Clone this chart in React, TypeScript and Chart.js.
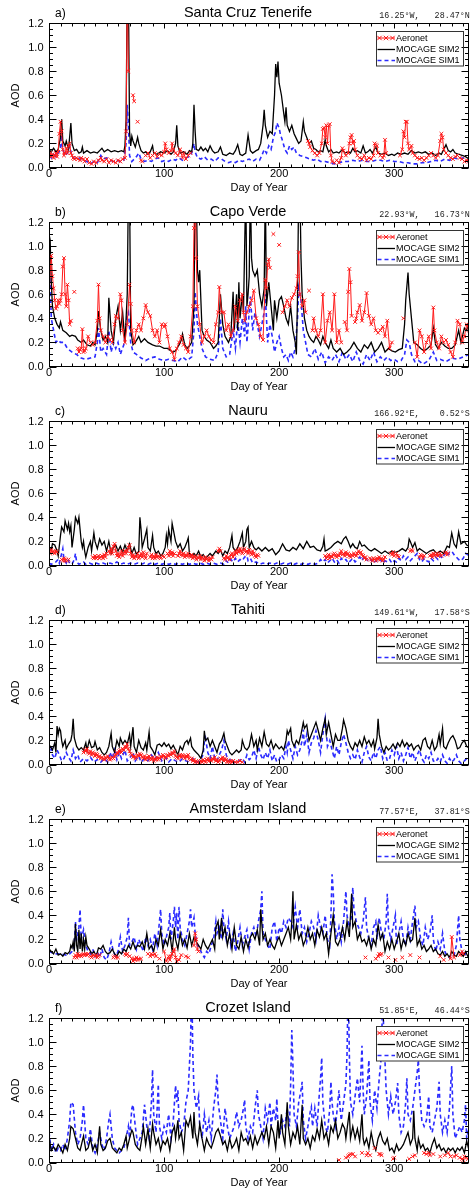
import React, { useEffect, useRef } from "react";
import { Chart, registerables } from "chart.js";

Chart.register(...registerables);

type Pt = [number, number];

// ---------- axes / labels ----------
const DAY_MIN = 0;
const DAY_MAX = 365;
const AOD_MIN = 0;
const AOD_MAX = 1.2;
const xTickValues = [0, 100, 200, 300];
const xTickLabels = ["0", "100", "200", "300"];
const yTickValues = [0, 0.2, 0.4, 0.6, 0.8, 1.0, 1.2];
const yTickLabels = ["0.0", "0.2", "0.4", "0.6", "0.8", "1.0", "1.2"];
const xMinorStep = 10;
const yMinorStep = 0.05;
const seriesNames = ["Aeronet", "MOCAGE SIM2", "MOCAGE SIM1"];
const xTitle = "Day of Year";
const yTitle = "AOD";

const panelTags = ["a)", "b)", "c)", "d)", "e)", "f)"];
const stationNames = ["Santa Cruz Tenerife", "Capo Verde", "Nauru", "Tahiti", "Amsterdam Island", "Crozet Island"];
const stationCoords = [
  " 16.25°W,   28.47°N",
  " 22.93°W,   16.73°N",
  "166.92°E,    0.52°S",
  "149.61°W,   17.58°S",
  " 77.57°E,   37.81°S",
  " 51.85°E,   46.44°S",
];

// ---------- a) Santa Cruz Tenerife ----------
const tenerifeAeronet: Pt[] = [
  [0,0.1],[1,0.12],[2,0.09],[3,0.11],[4,0.08],[5,0.1],[6,0.12],[7,0.09],[8,0.13],[9,0.28],[10,0.38],[11,0.3],[12,0.15],[13,0.1],[14,0.12],[15,0.16],[16,0.12],[17,0.18],[18,0.2],[19,0.12],[20,0.1],[21,0.08],[22,0.07],[24,0.08],[25,0.07],[27,0.06],[28,0.08],[30,0.07],[31,0.05],[33,0.07],[35,0.04],[37,0.03],[39,0.05],[41,0.04],[43,0.06],[45,0.08],[46,0.06],[48,0.05],[50,0.07],[52,0.04],[54,0.06],[56,0.05],[58,0.04],[60,0.06],[62,0.05],[64,0.07],[66,0.08],[67,0.3],[68,1.5],[69,0.8],
  [73,0.6],[74,0.55],[77,0.38],[80,0.06],[81,0.05],
  [84,0.1],[86,0.12],[88,0.08],[90,0.1],[92,0.12],[94,0.09],[96,0.11],[98,0.1],[100,0.13],[101,0.2],[102,0.15],[104,0.12],[106,0.14],[107,0.2],[108,0.15],[110,0.12],[112,0.1],[114,0.15],[116,0.08],[117,0.12],[119,0.07],[121,0.1],[123,0.12],
  [225,0.22],[226,0.2],[227,0.17],[229,0.14],[231,0.12],[233,0.1],[235,0.12],[237,0.2],[238,0.32],[239,0.33],[240,0.25],[241,0.35],[242,0.2],[243,0.35],[244,0.36],[245,0.1],[246,0.05],[248,0.04],[250,0.06],[252,0.04],[254,0.08],[255,0.16],[256,0.14],[258,0.1],[260,0.12],[261,0.2],[262,0.25],[263,0.27],[264,0.2],[265,0.22],[266,0.15],[268,0.1],[270,0.08],[272,0.07],[274,0.1],[276,0.06],[278,0.08],[280,0.07],[282,0.1],[283,0.2],[284,0.19],[285,0.18],[286,0.12],[288,0.1],[290,0.08],[291,0.1],[292,0.23],[293,0.12],
  [305,0.1],[307,0.15],[308,0.3],[309,0.25],[310,0.38],[311,0.38],[312,0.2],[313,0.15],[315,0.18],[316,0.12],[318,0.1],[320,0.08],[322,0.07],[324,0.08],[326,0.06],[328,0.08],[330,0.1],[332,0.12],[334,0.1],[336,0.08],[338,0.1],[340,0.22],[341,0.28],[342,0.25],[343,0.15],[345,0.12],[347,0.1],[349,0.08],[351,0.07],[353,0.09],[355,0.1],[357,0.08],[359,0.07],[361,0.05],[363,0.06],[365,0.05],
];
const tenerifeSim2: Pt[] = [
  [0,0.15],[2,0.13],[4,0.16],[6,0.13],[8,0.15],[10,0.25],[11,0.4],[12,0.22],[14,0.18],[15,0.22],[17,0.15],[19,0.37],[20,0.2],[22,0.14],[24,0.15],[26,0.12],[28,0.13],[29,0.17],[30,0.12],[33,0.14],[36,0.12],[39,0.13],[42,0.12],[44,0.14],[46,0.16],[48,0.13],[51,0.15],[54,0.13],[57,0.14],[60,0.13],[63,0.14],[65,0.13],[66,0.18],[67,0.4],[68,1.5],[69,1.5],[70,0.3],[71,0.18],[72,0.26],[73,0.22],[75,0.17],[77,0.25],[78,0.2],[80,0.14],[82,0.12],[84,0.13],[86,0.11],[88,0.13],[90,0.18],[91,0.12],[94,0.11],[97,0.13],[100,0.12],[103,0.14],[106,0.11],[108,0.13],[110,0.2],[111,0.35],[112,0.18],[114,0.12],[117,0.13],[120,0.11],[122,0.14],[124,0.13],[125,0.2],[126,0.52],[127,0.3],[128,0.15],[130,0.14],[132,0.17],[134,0.14],[136,0.16],[138,0.13],[140,0.18],[142,0.14],[144,0.12],[147,0.13],[149,0.17],[151,0.11],[154,0.1],[157,0.12],[160,0.11],[162,0.14],[164,0.19],[166,0.11],[168,0.1],[171,0.12],[173,0.27],[175,0.14],[177,0.12],[180,0.14],[182,0.15],[184,0.2],[186,0.35],[187,0.48],[188,0.35],[190,0.25],[192,0.3],[194,0.28],[196,0.6],[197,0.86],[198,0.75],[199,0.88],[200,0.7],[202,0.6],[204,0.45],[205,0.38],[206,0.5],[207,0.35],[209,0.3],[211,0.35],[213,0.28],[215,0.24],[217,0.2],[219,0.22],[221,0.38],[222,0.3],[224,0.25],[226,0.2],[228,0.22],[230,0.16],[232,0.15],[234,0.13],[236,0.14],[238,0.13],[240,0.23],[241,0.18],[243,0.13],[245,0.15],[247,0.12],[250,0.13],[252,0.12],[255,0.15],[257,0.12],[260,0.13],[262,0.12],[264,0.16],[266,0.13],[268,0.14],[271,0.12],[273,0.18],[275,0.12],[277,0.13],[279,0.15],[281,0.12],[284,0.17],[286,0.12],[289,0.11],[292,0.12],[295,0.1],[298,0.11],[300,0.1],[303,0.12],[306,0.11],[309,0.12],[312,0.11],[315,0.14],[318,0.12],[321,0.13],[324,0.12],[327,0.13],[330,0.11],[333,0.12],[336,0.1],[339,0.12],[341,0.11],[343,0.15],[345,0.19],[347,0.14],[349,0.13],[351,0.15],[353,0.12],[356,0.11],[359,0.1],[362,0.09],[365,0.07],
];
const tenerifeSim1: Pt[] = [
  [0,0.1],[2,0.08],[4,0.11],[6,0.09],[8,0.12],[10,0.15],[11,0.27],[12,0.15],[14,0.1],[16,0.12],[18,0.18],[19,0.13],[21,0.08],[24,0.07],[27,0.08],[30,0.06],[33,0.05],[36,0.03],[39,0.05],[42,0.04],[45,0.1],[47,0.07],[50,0.08],[53,0.06],[56,0.05],[59,0.06],[62,0.05],[65,0.06],[67,0.2],[68,0.52],[69,0.35],[70,0.1],[72,0.05],[74,0.07],[76,0.09],[78,0.12],[80,0.07],[83,0.05],[86,0.06],[89,0.05],[92,0.07],[95,0.08],[98,0.05],[101,0.06],[104,0.05],[107,0.07],[110,0.06],[113,0.08],[116,0.06],[119,0.08],[122,0.09],[124,0.12],[126,0.2],[127,0.13],[129,0.08],[132,0.07],[135,0.09],[138,0.06],[141,0.07],[144,0.05],[147,0.08],[150,0.07],[153,0.05],[156,0.04],[159,0.05],[162,0.04],[165,0.06],[168,0.05],[171,0.06],[174,0.07],[177,0.05],[180,0.07],[183,0.06],[185,0.1],[187,0.15],[189,0.12],[191,0.18],[193,0.15],[195,0.25],[197,0.3],[198,0.37],[199,0.35],[200,0.33],[201,0.28],[203,0.22],[205,0.15],[207,0.12],[209,0.18],[211,0.15],[213,0.17],[215,0.12],[218,0.1],[221,0.09],[224,0.08],[227,0.07],[230,0.06],[233,0.07],[236,0.05],[240,0.05],[244,0.04],[248,0.03],[252,0.04],[256,0.05],[260,0.05],[264,0.06],[268,0.05],[272,0.06],[276,0.05],[280,0.05],[284,0.06],[288,0.06],[292,0.05],[296,0.06],[300,0.05],[304,0.05],[308,0.04],[312,0.04],[316,0.03],[320,0.03],[324,0.04],[328,0.04],[332,0.05],[336,0.06],[340,0.05],[344,0.07],[348,0.06],[352,0.08],[356,0.07],[360,0.08],[363,0.06],[365,0.04],
];

// ---------- b) Capo Verde ----------
const capoAeronet: Pt[] = [
  [0,0.5],[1,0.8],[2,0.92],[3,0.75],[4,0.65],[5,0.55],[6,0.48],[7,0.5],[8,0.55],[9,0.52],[10,0.55],[11,0.6],[12,0.83],[13,0.9],[14,0.6],[15,0.5],[16,0.68],[17,0.55],[18,0.35],[19,0.38],
  [22,0.62],
  [25,0.15],[26,0.12],[27,0.14],[28,0.15],[29,0.31],[30,0.12],[31,0.13],[32,0.15],[34,0.25],[36,0.2],[38,0.18],[40,0.2],[42,0.38],[43,0.68],[44,0.4],[45,0.3],[47,0.25],[49,0.2],[51,0.25],[53,0.22],[55,0.2],[57,0.35],[58,0.42],[60,0.4],[62,0.6],[63,0.55],[64,0.3],[66,0.2],[68,0.35],[70,0.68],[71,0.52],[72,0.3],[74,0.2],[76,0.3],[78,0.35],[80,0.3],[82,0.4],[84,0.51],[86,0.45],[88,0.42],[90,0.3],[92,0.25],[94,0.3],[96,0.2],[98,0.35],[100,0.33],[101,0.35],[103,0.25],[105,0.15],[107,0.12],[109,0.06],[111,0.15],[113,0.2],[115,0.25],[117,0.18],[119,0.15],[121,0.12],[123,0.25],[125,0.5],[126,1.15],[127,1.5],[128,0.9],[129,0.5],[131,0.35],[133,0.2],[135,0.25],[137,0.3],[139,0.25],[141,0.22],[143,0.2],[145,0.35],[147,0.45],[148,0.66],[150,0.45],[152,0.45],[154,0.3],[156,0.35],[158,0.25],[160,0.3],[162,0.5],[164,0.38],[166,0.55],[168,0.6],[169,0.45],[170,0.38],[172,0.45],[174,0.5],[176,0.55],[178,0.63],[180,0.4],[182,0.35],[184,0.25],[186,0.22],[188,0.72],[189,0.65],[190,0.85],[191,0.89],[192,0.82],
  [195,1.1],
  [200,1.01],
  [203,0.45],[205,0.5],[207,0.55],[209,0.5],[211,0.57],[213,0.6],[215,0.65],[216,0.75],[217,0.95],[218,0.6],[220,0.5],[222,0.55],[223,0.45],
  [226,0.63],
  [229,0.3],[230,0.4],[232,0.3],[234,0.25],[236,0.3],[238,0.6],[240,0.2],[242,0.38],[244,0.45],[246,0.3],[248,0.6],[250,0.2],[252,0.3],[254,0.2],
  [257,0.37],[259,0.3],[260,0.62],[261,0.81],[262,0.7],[263,0.42],
  [266,0.37],[267,0.4],[268,0.45],[270,0.51],[272,0.38],[274,0.45],[276,0.61],[278,0.42],[280,0.35],[282,0.4],[284,0.3],[286,0.28],[288,0.3],[290,0.33],[292,0.25],[294,0.38],[296,0.15],[298,0.2],
  [308,0.4],
  [318,0.2],[320,0.08],[322,0.3],[324,0.25],[326,0.12],[328,0.2],[330,0.25],[332,0.15],[334,0.49],[335,0.3],[337,0.2],[339,0.15],[341,0.25],[343,0.2],[345,0.22],[347,0.18],[349,0.12],[351,0.08],[353,0.2],[355,0.38],[357,0.35],[359,0.2],[361,0.25],[363,0.35],[365,0.3],
];
const capoSim2: Pt[] = [
  [0,1.1],[1,1.05],[2,0.7],[3,0.5],[5,0.4],[7,0.35],[9,0.32],[10,0.37],[12,0.3],[15,0.28],[18,0.25],[20,0.26],[23,0.25],[25,0.22],[28,0.2],[30,0.22],[33,0.18],[36,0.17],[38,0.2],[40,0.18],[42,0.3],[43,0.46],[45,0.3],[47,0.22],[49,0.25],[51,0.2],[52,0.57],[54,0.3],[56,0.2],[58,0.4],[60,0.5],[62,0.3],[64,0.45],[66,0.2],[68,0.6],[69,1.5],[70,1.5],[71,0.3],[73,0.18],[75,0.2],[78,0.25],[80,0.2],[83,0.23],[86,0.2],[90,0.18],[93,0.17],[96,0.17],[100,0.15],[103,0.15],[106,0.13],[108,0.12],[110,0.13],[113,0.18],[115,0.22],[116,0.27],[118,0.18],[120,0.15],[122,0.17],[124,0.2],[126,0.5],[127,1.5],[128,1.5],[129,0.8],[130,0.7],[131,0.8],[133,0.3],[135,0.25],[137,0.22],[140,0.2],[143,0.15],[145,0.17],[147,0.2],[149,0.6],[151,0.35],[153,0.25],[156,0.2],[158,0.25],[160,0.62],[161,0.3],[163,0.6],[164,0.3],[165,0.7],[166,0.4],[168,0.6],[169,0.45],[171,1.5],[172,0.5],[173,0.6],[174,0.75],[175,1.5],[176,0.9],[177,0.8],[179,0.75],[181,0.8],[183,0.6],[185,0.5],[187,0.65],[188,1.5],[189,0.5],[191,0.7],[193,0.5],[195,0.3],[196,0.55],[198,0.4],[200,0.55],[202,0.58],[204,0.5],[206,0.4],[208,0.35],[210,0.5],[212,0.3],[214,0.2],[215,0.1],[216,0.6],[217,1.5],[218,1.5],[219,0.9],[220,0.6],[222,0.4],[224,0.3],[226,0.25],[228,0.22],[230,0.2],[232,0.25],[234,0.22],[236,0.18],[238,0.25],[240,0.2],[243,0.15],[245,0.22],[247,0.15],[250,0.12],[253,0.15],[256,0.1],[259,0.12],[262,0.15],[265,0.2],[268,0.15],[271,0.12],[274,0.18],[277,0.15],[280,0.2],[283,0.12],[286,0.15],[289,0.2],[292,0.12],[295,0.15],[298,0.13],[301,0.12],[304,0.14],[307,0.15],[309,0.35],[310,0.55],[312,0.78],[313,0.6],[315,0.4],[317,0.2],[320,0.18],[323,0.15],[326,0.13],[329,0.15],[332,0.18],[334,0.32],[336,0.18],[338,0.15],[341,0.2],[344,0.17],[347,0.15],[350,0.15],[353,0.18],[356,0.3],[358,0.2],[361,0.32],[363,0.3],[365,0.38],
];
const capoSim1: Pt[] = [
  [0,0.85],[1,0.7],[2,0.4],[4,0.3],[6,0.2],[8,0.22],[10,0.2],[13,0.2],[16,0.15],[20,0.12],[24,0.1],[28,0.07],[32,0.06],[36,0.07],[40,0.08],[42,0.2],[43,0.32],[45,0.12],[47,0.15],[50,0.1],[52,0.3],[54,0.12],[56,0.2],[58,0.15],[60,0.2],[62,0.1],[65,0.18],[68,0.42],[69,0.45],[71,0.2],[73,0.12],[76,0.1],[80,0.07],[84,0.05],[88,0.07],[92,0.08],[96,0.06],[100,0.05],[104,0.06],[108,0.05],[112,0.04],[116,0.08],[120,0.05],[124,0.08],[126,0.3],[127,0.62],[129,0.35],[131,0.25],[133,0.15],[136,0.08],[140,0.06],[144,0.05],[147,0.12],[149,0.4],[151,0.15],[154,0.08],[157,0.1],[160,0.3],[162,0.15],[164,0.38],[166,0.2],[168,0.4],[170,0.25],[171,0.5],[172,0.2],[174,0.45],[175,0.58],[177,0.3],[179,0.45],[181,0.35],[183,0.25],[185,0.35],[187,0.45],[188,0.6],[190,0.2],[192,0.35],[194,0.25],[196,0.12],[198,0.2],[200,0.25],[202,0.15],[204,0.08],[206,0.1],[208,0.05],[210,0.12],[212,0.08],[214,0.15],[216,0.4],[217,0.65],[219,0.55],[221,0.3],[223,0.2],[225,0.1],[228,0.08],[231,0.15],[234,0.06],[237,0.12],[240,0.03],[243,0.08],[246,0.05],[249,0.1],[252,0.04],[255,0.12],[258,0.06],[261,0.1],[264,0.04],[267,0.12],[270,0.05],[273,0.02],[276,0.1],[279,0.05],[282,0.12],[285,0.04],[288,0.08],[291,0.05],[294,0.08],[297,0.05],[300,0.06],[303,0.04],[306,0.05],[309,0.1],[311,0.22],[313,0.2],[315,0.1],[318,0.04],[321,0.05],[325,0.02],[330,0.05],[334,0.12],[337,0.05],[340,0.06],[345,0.04],[350,0.07],[355,0.06],[360,0.08],[365,0.1],
];

// ---------- c) Nauru ----------
const nauruAeronet: Pt[] = [
  [0,0.12],[1,0.1],[2,0.13],[3,0.11],[4,0.12],[5,0.1],[6,0.12],[7,0.11],
  [11,0.05],[12,0.04],[13,0.06],[14,0.04],[15,0.05],[16,0.04],[17,0.05],
  [38,0.07],[39,0.06],[40,0.08],[41,0.06],[42,0.07],[43,0.08],[44,0.06],[45,0.07],[46,0.08],[47,0.06],[48,0.09],[49,0.07],[50,0.1],[52,0.12],[53,0.1],[54,0.14],[55,0.1],[56,0.16],[57,0.18],[58,0.12],[59,0.08],[60,0.1],[61,0.07],[62,0.09],[63,0.12],[64,0.08],[65,0.1],[66,0.12],[67,0.1],[68,0.12],[69,0.15],[70,0.17],[71,0.1],[72,0.07],[73,0.09],[74,0.06],[75,0.08],[76,0.07],[77,0.1],[78,0.06],[79,0.08],[80,0.1],[81,0.07],[82,0.11],[83,0.08],[84,0.06],[85,0.1],
  [88,0.07],[89,0.09],[90,0.06],[91,0.08],[92,0.06],[93,0.09],[94,0.07],[95,0.08],[96,0.07],[97,0.06],[99,0.08],[100,0.07],
  [103,0.1],[104,0.08],[105,0.12],[106,0.09],[107,0.11],[108,0.08],[109,0.1],
  [112,0.08],[113,0.1],[114,0.12],[115,0.09],[116,0.08],[117,0.1],[118,0.07],[119,0.09],[120,0.08],[121,0.1],[122,0.08],[123,0.07],[124,0.09],[125,0.06],[126,0.08],[127,0.07],[128,0.05],[129,0.07],[130,0.06],[131,0.08],[132,0.05],[133,0.07],[134,0.06],[135,0.04],[136,0.07],[137,0.05],[138,0.06],[139,0.04],[140,0.06],[141,0.05],[142,0.07],
  [147,0.12],[148,0.14],[149,0.12],
  [152,0.06],[153,0.05],[154,0.08],[155,0.06],[156,0.07],[157,0.05],[158,0.09],[159,0.1],[160,0.07],[161,0.09],[162,0.12],[163,0.1],[164,0.13],[165,0.11],[166,0.14],[167,0.12],[168,0.1],[169,0.13],[170,0.14],[171,0.11],[172,0.12],[173,0.1],[174,0.13],[175,0.11],[176,0.09],[177,0.12],[178,0.1],[179,0.08],[180,0.07],[181,0.09],[182,0.08],
  [240,0.08],[241,0.06],[242,0.07],[243,0.09],[244,0.06],[245,0.08],[246,0.07],[247,0.09],[248,0.1],[249,0.08],[250,0.07],[251,0.09],[252,0.08],[253,0.1],[254,0.12],[255,0.09],[256,0.1],[257,0.08],[258,0.11],[259,0.09],[260,0.1],[261,0.08],[262,0.07],[263,0.09],[264,0.08],[265,0.1],[266,0.09],[267,0.08],[268,0.1],[269,0.12],[270,0.1],[271,0.11],[272,0.09],[273,0.08],[274,0.06],[275,0.07],[276,0.05],
  [279,0.06],[280,0.05],[281,0.04],[282,0.06],[283,0.05],[284,0.04],[285,0.06],[286,0.05],[287,0.07],[288,0.05],[289,0.06],[290,0.04],[291,0.05],[292,0.07],
  [297,0.1],[298,0.09],[299,0.11],[300,0.08],[301,0.09],[302,0.1],[303,0.08],[304,0.07],
  [314,0.12],[315,0.13],[316,0.12],
  [322,0.07],[323,0.09],[324,0.08],[325,0.06],[326,0.08],
  [331,0.08],[332,0.09],[333,0.07],[334,0.1],[335,0.08],[336,0.09],[337,0.1],[338,0.08],[339,0.09],[340,0.1],[341,0.08],
  [344,0.1],[345,0.11],[346,0.09],[347,0.1],
];
const nauruSim2: Pt[] = [
  [0,0.15],[2,0.13],[3,0.18],[5,0.17],[7,0.12],[8,0.08],[10,0.25],[11,0.32],[13,0.28],[14,0.37],[16,0.3],[17,0.35],[18,0.28],[19,0.33],[20,0.15],[22,0.3],[23,0.4],[25,0.35],[26,0.4],[27,0.3],[28,0.2],[29,0.15],[30,0.2],[31,0.12],[32,0.07],[34,0.15],[36,0.2],[37,0.12],[39,0.27],[40,0.2],[42,0.14],[44,0.22],[46,0.17],[48,0.2],[50,0.12],[52,0.2],[54,0.1],[56,0.15],[58,0.17],[60,0.12],[62,0.16],[64,0.11],[66,0.17],[68,0.12],[70,0.18],[72,0.1],[74,0.15],[76,0.09],[78,0.12],[79,0.4],[80,0.3],[81,0.15],[83,0.22],[85,0.3],[86,0.15],[88,0.12],[90,0.25],[91,0.15],[93,0.1],[95,0.12],[97,0.08],[99,0.1],[101,0.15],[102,0.25],[103,0.18],[104,0.3],[106,0.2],[107,0.35],[108,0.3],[110,0.2],[112,0.15],[114,0.18],[116,0.12],[118,0.15],[120,0.2],[121,0.23],[122,0.1],[124,0.08],[126,0.1],[128,0.08],[130,0.12],[132,0.07],[134,0.09],[136,0.06],[138,0.08],[140,0.1],[142,0.08],[145,0.12],[147,0.1],[149,0.13],[151,0.08],[153,0.12],[155,0.1],[157,0.15],[159,0.25],[160,0.15],[162,0.12],[164,0.15],[166,0.2],[168,0.27],[169,0.15],[171,0.2],[172,0.3],[173,0.32],[174,0.15],[176,0.2],[178,0.15],[180,0.13],[182,0.15],[185,0.12],[188,0.15],[191,0.12],[194,0.14],[197,0.09],[200,0.12],[203,0.18],[206,0.13],[209,0.12],[212,0.15],[215,0.13],[218,0.18],[221,0.14],[224,0.2],[227,0.15],[230,0.16],[233,0.13],[236,0.12],[238,0.16],[239,0.22],[240,0.12],[242,0.13],[245,0.15],[248,0.18],[251,0.2],[254,0.18],[256,0.22],[258,0.24],[260,0.2],[262,0.15],[264,0.18],[266,0.15],[268,0.14],[270,0.2],[272,0.16],[274,0.17],[276,0.15],[278,0.13],[280,0.12],[283,0.14],[286,0.12],[289,0.1],[292,0.12],[295,0.1],[298,0.12],[301,0.11],[304,0.12],[307,0.14],[310,0.12],[312,0.15],[313,0.22],[314,0.2],[316,0.15],[318,0.19],[320,0.12],[322,0.14],[325,0.12],[328,0.1],[331,0.12],[334,0.13],[337,0.1],[340,0.12],[343,0.1],[346,0.16],[348,0.15],[350,0.27],[352,0.18],[354,0.15],[356,0.28],[358,0.18],[361,0.2],[363,0.17],[365,0.16],
];
const nauruSim1: Pt[] = [
  [0,0.02],[2,0.01],[4,0.02],[6,0.03],[8,0.05],[9,0.02],[11,0.1],[12,0.14],[13,0.05],[15,0.02],[16,0.05],[18,0.02],[20,0.01],[22,0.05],[23,0.1],[24,0.03],[26,0.01],[28,0.02],[30,0.03],[32,0.01],[35,0.02],[38,0.01],[41,0.02],[44,0.01],[47,0.02],[50,0.01],[53,0.02],[56,0.01],[59,0.03],[62,0.01],[65,0.02],[68,0.01],[71,0.02],[74,0.01],[77,0.02],[80,0.01],[83,0.02],[86,0.01],[89,0.02],[92,0.01],[95,0.02],[98,0.01],[101,0.02],[104,0.01],[107,0.02],[110,0.01],[113,0.02],[116,0.01],[119,0.02],[122,0.01],[125,0.02],[128,0.01],[131,0.02],[134,0.01],[137,0.02],[140,0.01],[143,0.02],[146,0.01],[149,0.02],[152,0.01],[154,0.04],[156,0.02],[158,0.05],[160,0.03],[162,0.06],[164,0.03],[166,0.05],[168,0.04],[170,0.07],[172,0.08],[173,0.04],[175,0.06],[177,0.02],[180,0.03],[183,0.01],[186,0.02],[189,0.01],[192,0.02],[195,0.01],[198,0.02],[201,0.01],[204,0.02],[207,0.01],[210,0.02],[213,0.01],[216,0.02],[219,0.01],[222,0.02],[225,0.01],[228,0.02],[231,0.01],[234,0.02],[236,0.05],[238,0.03],[240,0.05],[242,0.02],[244,0.04],[246,0.06],[248,0.03],[250,0.05],[252,0.02],[254,0.06],[256,0.04],[258,0.05],[260,0.02],[262,0.04],[264,0.06],[266,0.03],[268,0.05],[270,0.07],[272,0.04],[274,0.08],[276,0.05],[278,0.03],[280,0.05],[282,0.02],[284,0.04],[286,0.03],[288,0.05],[290,0.02],[292,0.04],[294,0.03],[296,0.05],[298,0.02],[300,0.04],[302,0.03],[304,0.06],[306,0.04],[308,0.08],[310,0.05],[312,0.07],[314,0.04],[316,0.06],[318,0.08],[320,0.1],[322,0.05],[324,0.03],[326,0.06],[328,0.04],[330,0.03],[332,0.06],[334,0.04],[336,0.07],[338,0.05],[340,0.08],[342,0.06],[344,0.1],[346,0.08],[348,0.11],[350,0.12],[352,0.09],[354,0.07],[356,0.05],[358,0.04],[360,0.06],[362,0.1],[364,0.09],[365,0.08],
];

// ---------- d) Tahiti ----------
const tahitiAeronet: Pt[] = [
  [30,0.1],[31,0.12],[32,0.11],[33,0.13],[34,0.1],[35,0.09],[36,0.11],[37,0.08],[38,0.1],[39,0.09],[40,0.07],[41,0.09],[42,0.08],[43,0.06],[44,0.07],[45,0.05],[46,0.06],[47,0.05],[48,0.04],[49,0.06],[50,0.05],[51,0.07],[52,0.05],[53,0.04],[54,0.05],[55,0.06],[56,0.05],[57,0.07],[58,0.08],[59,0.1],[60,0.09],[61,0.11],[62,0.12],[63,0.1],[64,0.13],[65,0.12],[66,0.15],[67,0.14],[68,0.17],[69,0.13],[70,0.11],[71,0.09],[72,0.08],[73,0.06],[74,0.07],[75,0.05],[76,0.06],[77,0.08],[78,0.07],[79,0.09],[80,0.08],[81,0.06],[82,0.05],[83,0.07],[84,0.04],[85,0.06],[86,0.05],[87,0.07],[88,0.05],[89,0.04],[90,0.06],[91,0.03],[92,0.05],[93,0.04],[94,0.06],[95,0.04],[96,0.05],[97,0.07],[98,0.06],[99,0.08],[100,0.07],[101,0.05],[102,0.06],[103,0.08],[104,0.07],[105,0.09],[106,0.08],[107,0.1],[108,0.09],[109,0.11],[110,0.07],[111,0.06],[112,0.05],[113,0.07],[114,0.08],[115,0.06],[116,0.08],[117,0.07],[118,0.05],[119,0.07],[120,0.06],[121,0.08],[122,0.05],[123,0.04],[124,0.05],[125,0.03],[126,0.04],[127,0.02],[128,0.03],[129,0.02],[130,0.01],[131,0.02],[132,0.03],[133,0.02],[134,0.04],[135,0.03],[136,0.02],[137,0.04],[138,0.05],[139,0.03],[140,0.04],[141,0.03],[142,0.05],[143,0.04],[144,0.06],[145,0.03],[146,0.04],[147,0.02],[148,0.03],[149,0.05],[150,0.04],[151,0.06],[152,0.03],[153,0.05],[154,0.04],[155,0.02],[156,0.03],[157,0.02],[158,0.03],[159,0.02],[160,0.03],[162,0.02],[164,0.02],[166,0.03],[168,0.02],
];
const tahitiSim2: Pt[] = [
  [0,0.13],[1,0.15],[3,0.12],[5,0.18],[6,0.1],[7,0.32],[8,0.25],[9,0.3],[10,0.28],[11,0.2],[12,0.15],[14,0.2],[15,0.13],[17,0.17],[19,0.2],[20,0.25],[21,0.38],[22,0.22],[24,0.15],[26,0.12],[28,0.14],[30,0.12],[32,0.18],[33,0.12],[35,0.2],[37,0.14],[39,0.15],[40,0.19],[42,0.12],[44,0.14],[46,0.1],[48,0.08],[50,0.1],[52,0.15],[54,0.26],[55,0.15],[57,0.1],[59,0.2],[61,0.15],[62,0.22],[64,0.17],[66,0.2],[68,0.17],[70,0.25],[71,0.15],[73,0.31],[74,0.15],[76,0.1],[78,0.2],[80,0.14],[82,0.12],[84,0.18],[85,0.12],[87,0.27],[88,0.15],[90,0.12],[92,0.08],[94,0.16],[96,0.17],[98,0.15],[100,0.18],[102,0.15],[104,0.17],[106,0.13],[108,0.16],[110,0.12],[112,0.08],[114,0.15],[116,0.12],[118,0.18],[120,0.2],[121,0.17],[123,0.22],[124,0.15],[126,0.12],[128,0.1],[130,0.08],[132,0.05],[134,0.12],[135,0.28],[136,0.2],[138,0.22],[140,0.15],[142,0.2],[144,0.15],[146,0.1],[148,0.17],[150,0.2],[152,0.26],[153,0.2],[155,0.15],[157,0.1],[159,0.08],[161,0.1],[163,0.12],[165,0.1],[167,0.12],[168,0.2],[170,0.14],[172,0.12],[174,0.15],[176,0.25],[178,0.15],[180,0.2],[181,0.12],[183,0.22],[185,0.15],[187,0.27],[189,0.17],[191,0.15],[193,0.2],[195,0.13],[197,0.17],[200,0.13],[202,0.15],[204,0.12],[206,0.2],[207,0.28],[208,0.25],[210,0.3],[211,0.2],[213,0.15],[215,0.2],[217,0.17],[219,0.25],[220,0.3],[221,0.35],[222,0.3],[224,0.33],[226,0.2],[228,0.25],[230,0.3],[232,0.35],[234,0.28],[236,0.2],[238,0.3],[240,0.38],[241,0.25],[243,0.35],[245,0.25],[247,0.15],[249,0.25],[251,0.2],[253,0.2],[255,0.3],[256,0.37],[258,0.3],[260,0.2],[262,0.15],[264,0.12],[266,0.18],[268,0.15],[270,0.2],[272,0.15],[274,0.23],[276,0.17],[278,0.2],[280,0.15],[282,0.2],[283,0.13],[285,0.22],[286,0.38],[287,0.25],[289,0.15],[291,0.1],[293,0.15],[295,0.12],[297,0.14],[299,0.17],[301,0.13],[303,0.18],[305,0.15],[307,0.2],[309,0.15],[311,0.18],[313,0.15],[315,0.17],[317,0.12],[319,0.15],[321,0.16],[323,0.12],[325,0.2],[327,0.22],[329,0.15],[331,0.13],[333,0.2],[335,0.12],[337,0.15],[339,0.25],[340,0.17],[342,0.3],[343,0.15],[345,0.13],[347,0.18],[349,0.22],[351,0.24],[353,0.2],[355,0.13],[357,0.14],[359,0.18],[361,0.2],[363,0.15],[365,0.14],
];
const tahitiSim1: Pt[] = [
  [0,0.1],[2,0.15],[3,0.08],[5,0.05],[7,0.12],[9,0.08],[11,0.03],[13,0.05],[15,0.1],[17,0.06],[19,0.03],[21,0.12],[23,0.05],[25,0.08],[27,0.02],[30,0.05],[33,0.03],[36,0.06],[39,0.02],[42,0.04],[45,0.02],[48,0.05],[51,0.02],[53,0.1],[55,0.05],[57,0.12],[59,0.04],[61,0.1],[63,0.05],[66,0.12],[68,0.03],[70,0.05],[73,0.1],[75,0.03],[78,0.07],[80,0.02],[83,0.05],[86,0.03],[89,0.08],[92,0.04],[95,0.1],[98,0.03],[101,0.06],[104,0.02],[107,0.05],[110,0.03],[113,0.02],[116,0.05],[119,0.03],[122,0.02],[125,0.05],[128,0.02],[131,0.03],[134,0.08],[135,0.19],[136,0.22],[138,0.1],[140,0.05],[142,0.15],[144,0.05],[146,0.03],[148,0.08],[150,0.12],[152,0.2],[154,0.08],[156,0.03],[158,0.05],[160,0.03],[162,0.01],[165,0.03],[168,0.05],[170,0.02],[172,0.08],[174,0.04],[176,0.06],[178,0.12],[180,0.05],[182,0.15],[184,0.08],[186,0.04],[188,0.1],[190,0.05],[192,0.12],[194,0.03],[196,0.08],[198,0.02],[200,0.04],[202,0.08],[204,0.05],[206,0.15],[207,0.1],[208,0.2],[210,0.12],[212,0.05],[214,0.15],[216,0.08],[218,0.12],[220,0.2],[221,0.29],[222,0.15],[224,0.25],[226,0.1],[228,0.18],[230,0.22],[232,0.28],[234,0.2],[236,0.1],[238,0.25],[240,0.38],[242,0.15],[244,0.2],[246,0.12],[248,0.05],[250,0.15],[252,0.08],[254,0.18],[256,0.25],[258,0.18],[260,0.1],[262,0.05],[264,0.08],[266,0.04],[268,0.12],[270,0.06],[272,0.02],[274,0.1],[276,0.15],[278,0.06],[280,0.03],[282,0.1],[284,0.05],[286,0.12],[288,0.15],[290,0.05],[292,0.1],[294,0.03],[296,0.05],[298,0.12],[300,0.08],[302,0.15],[304,0.05],[306,0.1],[308,0.03],[310,0.08],[312,0.14],[314,0.05],[316,0.1],[318,0.03],[320,0.08],[322,0.12],[324,0.05],[326,0.02],[328,0.08],[330,0.05],[332,0.1],[334,0.03],[336,0.02],[338,0.05],[340,0.02],[342,0.08],[344,0.03],[346,0.01],[348,0.05],[350,0.02],[352,0.04],[354,0.08],[356,0.03],[358,0.01],[360,0.02],[363,0.05],[365,0.06],
];

// ---------- e) Amsterdam Island ----------
const amsterdamAeronet: Pt[] = [
  [22,0.05],[23,0.07],[24,0.05],[25,0.08],[26,0.06],[27,0.07],[28,0.06],[29,0.07],[30,0.08],[31,0.07],[32,0.08],[33,0.07],[34,0.08],[36,0.06],[37,0.05],[38,0.07],[40,0.06],[41,0.07],[42,0.05],[43,0.06],[44,0.07],
  [56,0.05],[57,0.06],[58,0.05],[60,0.05],
  [66,0.08],[67,0.07],[68,0.08],[70,0.06],[72,0.04],[73,0.02],[74,0.04],[75,0.03],[76,0.05],[77,0.03],[78,0.04],[80,0.04],
  [86,0.08],[88,0.06],[89,0.08],[90,0.07],[92,0.08],[93,0.06],
  [96,0.04],
  [100,0.1],[102,0.02],[104,0.06],[105,0.03],[106,0.06],[107,0.08],[108,0.1],[109,0.12],[110,0.05],[111,0.02],[113,0.03],[115,0.07],
  [119,0.06],[121,0.05],
  [126,0.15],[127,0.25],[128,0.2],[129,0.12],[130,0.1],
  [275,0.05],
  [284,0.04],[286,0.06],[287,0.08],[288,0.07],[289,0.08],
  [295,0.05],[301,0.03],[307,0.05],[314,0.07],[322,0.05],[340,0.06],[343,0.03],
  [349,0.04],[350,0.22],[352,0.05],
  [357,0.07],[359,0.1],[360,0.08],
];
const amsterdamSim2: Pt[] = [
  [0,0.12],[2,0.1],[4,0.08],[6,0.12],[8,0.07],[10,0.08],[12,0.06],[14,0.09],[16,0.08],[18,0.1],[19,0.15],[20,0.13],[21,0.18],[22,0.1],[23,0.33],[24,0.15],[25,0.1],[26,0.28],[27,0.12],[28,0.25],[29,0.1],[30,0.2],[31,0.12],[32,0.22],[33,0.15],[35,0.12],[37,0.08],[39,0.1],[41,0.06],[43,0.13],[45,0.12],[47,0.15],[49,0.1],[51,0.08],[53,0.09],[55,0.12],[57,0.08],[59,0.06],[61,0.1],[63,0.08],[65,0.12],[67,0.1],[69,0.15],[71,0.12],[73,0.18],[75,0.12],[77,0.15],[79,0.14],[81,0.18],[83,0.12],[85,0.25],[87,0.12],[89,0.15],[91,0.1],[93,0.2],[95,0.15],[97,0.28],[99,0.12],[101,0.2],[103,0.15],[105,0.25],[107,0.1],[109,0.3],[110,0.2],[112,0.12],[114,0.25],[116,0.15],[118,0.2],[120,0.13],[122,0.25],[124,0.15],[126,0.22],[128,0.18],[130,0.15],[132,0.12],[134,0.2],[136,0.15],[138,0.12],[140,0.16],[142,0.2],[144,0.12],[145,0.3],[147,0.35],[148,0.2],[150,0.38],[151,0.22],[153,0.3],[155,0.15],[157,0.25],[159,0.12],[161,0.3],[163,0.15],[165,0.12],[167,0.22],[169,0.1],[171,0.2],[173,0.13],[175,0.22],[177,0.25],[179,0.2],[181,0.28],[183,0.15],[184,0.45],[186,0.2],[188,0.25],[190,0.15],[192,0.2],[194,0.15],[196,0.12],[198,0.18],[200,0.22],[202,0.15],[204,0.2],[206,0.25],[208,0.3],[210,0.2],[211,0.35],[212,0.6],[213,0.2],[215,0.32],[217,0.2],[219,0.25],[221,0.15],[223,0.2],[225,0.3],[227,0.2],[229,0.25],[231,0.15],[233,0.28],[235,0.22],[237,0.3],[239,0.2],[241,0.25],[243,0.08],[245,0.25],[247,0.4],[249,0.18],[251,0.15],[253,0.2],[255,0.3],[257,0.2],[259,0.35],[261,0.22],[263,0.58],[264,0.3],[266,0.35],[268,0.2],[270,0.25],[272,0.18],[274,0.2],[276,0.15],[278,0.22],[280,0.12],[282,0.2],[284,0.15],[286,0.32],[288,0.2],[290,0.25],[292,0.1],[294,0.18],[296,0.12],[298,0.2],[300,0.12],[302,0.18],[304,0.25],[306,0.12],[308,0.2],[310,0.15],[312,0.25],[314,0.18],[316,0.2],[318,0.38],[320,0.15],[322,0.2],[324,0.12],[326,0.15],[328,0.1],[330,0.12],[332,0.15],[334,0.1],[336,0.12],[338,0.08],[340,0.07],[342,0.1],[344,0.06],[346,0.08],[348,0.05],[350,0.1],[352,0.07],[354,0.06],[356,0.1],[358,0.08],[360,0.06],[362,0.1],[364,0.06],[365,0.07],
];
const amsterdamSim1: Pt[] = [
  [0,0.1],[5,0.08],[10,0.08],[15,0.07],[18,0.08],[20,0.1],[22,0.15],[23,0.35],[24,0.2],[26,0.3],[27,0.45],[28,0.2],[30,0.28],[32,0.15],[34,0.1],[36,0.08],[38,0.12],[40,0.06],[42,0.1],[44,0.05],[46,0.12],[48,0.05],[50,0.03],[52,0.08],[54,0.18],[56,0.1],[58,0.06],[60,0.1],[62,0.22],[64,0.1],[66,0.15],[68,0.22],[69,0.38],[70,0.15],[72,0.18],[74,0.22],[76,0.12],[78,0.2],[80,0.15],[82,0.1],[84,0.22],[86,0.15],[88,0.2],[90,0.12],[92,0.25],[94,0.15],[96,0.35],[97,0.45],[98,0.25],[100,0.15],[102,0.22],[104,0.3],[105,0.42],[106,0.2],[108,0.35],[109,0.47],[110,0.3],[111,0.42],[112,0.2],[113,0.47],[114,0.3],[116,0.2],[118,0.15],[120,0.25],[122,0.35],[123,0.45],[124,0.3],[126,0.38],[127,0.25],[129,0.15],[131,0.12],[133,0.08],[135,0.05],[137,0.1],[139,0.08],[141,0.15],[143,0.2],[145,0.35],[146,0.25],[148,0.3],[150,0.2],[151,0.45],[152,0.3],[154,0.2],[156,0.35],[158,0.15],[160,0.25],[162,0.1],[164,0.18],[166,0.3],[168,0.15],[170,0.22],[172,0.28],[174,0.12],[176,0.25],[178,0.3],[180,0.22],[182,0.35],[184,0.45],[185,0.6],[186,0.25],[188,0.2],[190,0.15],[192,0.12],[194,0.3],[196,0.35],[198,0.18],[200,0.3],[202,0.25],[204,0.35],[206,0.3],[208,0.38],[210,0.35],[212,0.3],[214,0.47],[216,0.3],[218,0.45],[220,0.25],[222,0.3],[224,0.18],[226,0.25],[228,0.35],[230,0.3],[232,0.2],[234,0.4],[236,0.3],[238,0.25],[240,0.4],[242,0.2],[244,0.15],[245,0.4],[246,0.74],[247,0.6],[248,0.35],[250,0.2],[252,0.3],[254,0.18],[256,0.35],[258,0.6],[259,0.4],[261,0.3],[263,0.4],[264,0.63],[265,0.45],[267,0.35],[269,0.3],[271,0.25],[273,0.35],[275,0.55],[276,0.3],[278,0.2],[280,0.15],[282,0.3],[284,0.35],[285,0.2],[287,0.38],[289,0.25],[291,0.2],[293,0.35],[294,0.58],[295,0.3],[297,0.2],[299,0.3],[301,0.4],[302,0.15],[304,0.25],[306,0.35],[308,0.2],[310,0.15],[312,0.3],[314,0.2],[316,0.35],[318,0.48],[319,0.3],[321,0.35],[323,0.2],[325,0.15],[327,0.3],[329,0.2],[331,0.25],[333,0.4],[334,0.2],[336,0.1],[338,0.18],[340,0.12],[342,0.25],[344,0.1],[346,0.06],[348,0.05],[350,0.08],[352,0.07],[354,0.15],[356,0.4],[357,0.2],[359,0.1],[361,0.06],[363,0.1],[365,0.08],
];

// ---------- f) Crozet Island ----------
const crozetAeronet: Pt[] = [
  [252,0.02],[258,0.04],[260,0.05],[261,0.06],[262,0.07],[264,0.07],[266,0.05],[272,0.08],[276,0.06],[277,0.08],[279,0.06],[283,0.12],[287,0.07],[288,0.07],[289,0.06],[299,0.03],[300,0.04],[313,0.03],[316,0.05],[318,0.06],[326,0.08],[328,0.07],[330,0.08],[331,0.06],[334,0.07],[340,0.05],[344,0.06],[347,0.08],[349,0.05],[352,0.05],[354,0.06],[357,0.04],[359,0.03],[360,0.02],[361,0.05],[363,0.04],[364,0.03],
];
const crozetSim2: Pt[] = [
  [0,0.21],[1,0.15],[2,0.1],[4,0.13],[6,0.1],[8,0.15],[10,0.12],[12,0.08],[14,0.15],[16,0.1],[18,0.2],[19,0.3],[21,0.28],[23,0.2],[25,0.12],[27,0.1],[29,0.18],[30,0.22],[32,0.1],[34,0.12],[36,0.2],[38,0.1],[40,0.15],[42,0.08],[44,0.3],[45,0.15],[47,0.1],[49,0.12],[51,0.18],[53,0.2],[55,0.12],[57,0.1],[59,0.08],[61,0.12],[63,0.1],[65,0.15],[67,0.22],[68,0.12],[70,0.2],[72,0.27],[73,0.25],[75,0.15],[77,0.12],[79,0.1],[81,0.22],[82,0.3],[84,0.15],[86,0.28],[88,0.12],[90,0.32],[91,0.25],[93,0.15],[95,0.2],[97,0.1],[99,0.18],[101,0.15],[103,0.2],[105,0.1],[107,0.25],[109,0.3],[110,0.2],[112,0.35],[113,0.2],[115,0.25],[117,0.1],[119,0.35],[121,0.3],[123,0.38],[125,0.2],[126,0.42],[127,0.25],[129,0.15],[131,0.32],[133,0.2],[135,0.1],[137,0.2],[139,0.15],[141,0.12],[143,0.18],[145,0.25],[147,0.28],[149,0.22],[151,0.15],[153,0.18],[155,0.1],[157,0.2],[159,0.12],[161,0.15],[163,0.2],[165,0.1],[167,0.25],[169,0.18],[171,0.2],[173,0.15],[175,0.22],[177,0.12],[179,0.22],[181,0.15],[183,0.2],[185,0.25],[187,0.2],[189,0.3],[191,0.15],[193,0.3],[195,0.25],[197,0.12],[199,0.35],[200,0.2],[202,0.4],[203,0.25],[205,0.15],[207,0.5],[208,0.3],[210,0.15],[212,0.25],[214,0.2],[216,0.3],[218,0.15],[220,0.48],[221,0.2],[223,0.15],[225,0.2],[227,0.12],[229,0.22],[231,0.18],[233,0.28],[235,0.2],[237,0.35],[239,0.2],[241,0.25],[243,0.15],[245,0.3],[247,0.25],[249,0.35],[251,0.2],[253,0.25],[255,0.32],[257,0.28],[258,0.2],[260,0.35],[261,0.42],[262,0.2],[264,0.3],[266,0.2],[268,0.28],[270,0.18],[272,0.4],[273,0.2],[274,0.15],[276,0.2],[278,0.12],[280,0.25],[282,0.15],[284,0.1],[286,0.2],[288,0.25],[290,0.18],[292,0.15],[294,0.2],[296,0.1],[298,0.12],[300,0.08],[302,0.15],[304,0.1],[306,0.12],[308,0.15],[310,0.2],[312,0.25],[314,0.15],[316,0.2],[317,0.43],[318,0.2],[320,0.1],[321,0.2],[323,0.12],[325,0.15],[327,0.1],[329,0.12],[331,0.08],[333,0.15],[335,0.2],[337,0.12],[339,0.15],[341,0.1],[343,0.12],[345,0.08],[347,0.12],[349,0.1],[351,0.12],[353,0.08],[355,0.12],[357,0.1],[359,0.13],[361,0.08],[363,0.18],[365,0.1],
];
const crozetSim1: Pt[] = [
  [0,0.25],[2,0.1],[4,0.15],[6,0.08],[8,0.12],[10,0.1],[12,0.15],[14,0.1],[16,0.2],[18,0.35],[19,0.5],[21,0.48],[23,0.25],[25,0.15],[27,0.2],[29,0.35],[30,0.48],[32,0.2],[34,0.15],[36,0.28],[38,0.12],[40,0.08],[42,0.15],[44,0.25],[46,0.15],[48,0.1],[50,0.2],[52,0.35],[53,0.4],[55,0.2],[57,0.12],[59,0.1],[61,0.08],[63,0.1],[65,0.12],[67,0.2],[69,0.3],[70,0.2],[72,0.45],[73,0.48],[75,0.3],[77,0.15],[79,0.2],[81,0.25],[83,0.48],[85,0.3],[87,0.2],[89,0.5],[90,0.77],[91,0.4],[93,0.25],[95,0.65],[96,0.3],[98,0.2],[100,0.3],[102,0.25],[104,0.4],[106,0.2],[108,0.35],[110,0.64],[111,0.5],[112,0.6],[113,0.35],[115,0.25],[117,0.3],[119,0.5],[121,0.6],[122,0.8],[123,1.0],[124,1.5],[125,0.9],[126,0.6],[128,0.45],[130,0.55],[131,0.3],[133,0.2],[135,0.4],[137,0.25],[139,0.35],[141,0.2],[143,0.45],[145,0.6],[146,0.73],[147,0.5],[149,0.35],[151,0.2],[153,0.45],[155,0.3],[157,0.2],[159,0.25],[161,0.3],[163,0.42],[165,0.3],[167,0.35],[169,0.45],[170,0.52],[171,0.3],[173,0.2],[175,0.3],[177,0.25],[179,0.45],[181,0.6],[182,0.4],[184,0.3],[186,0.2],[188,0.45],[190,0.35],[192,0.5],[193,0.3],[195,0.45],[197,0.35],[198,0.53],[199,0.3],[201,0.25],[203,0.35],[205,0.3],[207,0.45],[209,0.3],[210,0.65],[211,1.1],[212,0.8],[213,0.4],[215,0.3],[217,0.5],[219,0.6],[220,0.67],[221,0.35],[223,0.2],[225,0.3],[227,0.42],[228,0.46],[229,0.3],[231,0.45],[233,0.3],[235,0.58],[236,0.7],[237,0.87],[238,0.5],[240,0.3],[242,0.25],[244,0.45],[245,0.67],[246,0.5],[247,0.4],[249,0.3],[251,0.5],[252,0.6],[253,0.45],[254,0.35],[256,0.5],[258,0.65],[259,0.9],[260,1.5],[261,0.9],[262,0.5],[264,0.4],[266,0.55],[268,0.7],[270,0.5],[272,0.97],[273,0.6],[274,0.4],[276,0.55],[278,0.85],[279,0.5],[281,0.35],[283,0.6],[285,0.45],[287,0.7],[289,0.9],[290,1.5],[291,1.0],[292,0.84],[293,0.6],[295,0.4],[297,0.55],[299,0.4],[301,0.5],[303,0.66],[304,0.4],[306,0.25],[308,0.3],[310,0.5],[311,0.7],[312,0.4],[314,0.35],[316,0.45],[318,0.6],[320,0.75],[321,0.85],[322,0.6],[324,0.35],[326,0.3],[328,0.35],[330,0.55],[331,0.3],[333,0.25],[335,0.35],[337,0.45],[339,0.67],[340,0.4],[342,0.25],[344,0.35],[346,0.25],[348,0.45],[350,0.8],[351,0.4],[353,0.2],[355,0.25],[357,0.3],[359,0.25],[361,0.35],[362,0.48],[363,0.2],[365,0.3],
];

const panelAeronet = [tenerifeAeronet, capoAeronet, nauruAeronet, tahitiAeronet, amsterdamAeronet, crozetAeronet];
const panelSim2 = [tenerifeSim2, capoSim2, nauruSim2, tahitiSim2, amsterdamSim2, crozetSim2];
const panelSim1 = [tenerifeSim1, capoSim1, nauruSim1, tahitiSim1, amsterdamSim1, crozetSim1];

// ---------- layout / style ----------
const CANVAS_W = 474;
const CANVAS_H = 199;
const PLOT_LEFT = 49;
const PLOT_RIGHT = 472;
const PLOT_TOP = 23;
const PLOT_BOTTOM = 167.5;
const RED = "#ff1a1a";
const BLACK = "#000000";
const BLUE = "#2b2bff";
const SANS = "'Liberation Sans', Arial, Helvetica, sans-serif";
const MONO = "'Liberation Mono', 'DejaVu Sans Mono', monospace";

const toXY = (pts: Pt[]) => pts.map(([x, y]) => ({ x, y }));

function drawCross(ctx: CanvasRenderingContext2D, x: number, y: number, r: number) {
  ctx.beginPath();
  ctx.moveTo(x - r, y - r);
  ctx.lineTo(x + r, y + r);
  ctx.moveTo(x - r, y + r);
  ctx.lineTo(x + r, y - r);
  ctx.stroke();
}

function makeDecor(idx: number) {
  return {
    id: "decor",
    afterDraw(chart: any) {
      const ctx: CanvasRenderingContext2D = chart.ctx;
      const xs = chart.scales.x;
      const ys = chart.scales.y;
      const ca = chart.chartArea;
      const l = Math.round(ca.left) + 0.5;
      const r = Math.round(ca.right) - 0.5;
      const t = Math.round(ca.top) + 0.5;
      const b = Math.round(ca.bottom) - 0.5;
      ctx.save();

      // legend box (white, covers data beneath it)
      const bx = 376.5, by = t + 8, bw = 87, bh = 34.5;
      ctx.fillStyle = "#fff";
      ctx.fillRect(bx, by, bw, bh);

      ctx.strokeStyle = "#000";
      ctx.lineWidth = 1;
      ctx.setLineDash([]);
      ctx.strokeRect(l, t, r - l, b - t);

      // x ticks (major + minor), bottom and top, inward
      ctx.beginPath();
      for (let d = DAY_MIN; d <= DAY_MAX; d += xMinorStep) {
        const x = Math.round(xs.getPixelForValue(d)) + 0.5;
        const len = xTickValues.includes(d) ? 5 : 3;
        ctx.moveTo(x, b);
        ctx.lineTo(x, b - len);
        ctx.moveTo(x, t);
        ctx.lineTo(x, t + len);
      }
      // y ticks
      const nY = Math.round((AOD_MAX - AOD_MIN) / yMinorStep);
      for (let i = 0; i <= nY; i++) {
        const v = AOD_MIN + i * yMinorStep;
        const y = Math.round(ys.getPixelForValue(v)) + 0.5;
        const len = i % 4 === 0 ? 7 : 3.5;
        ctx.moveTo(l, y);
        ctx.lineTo(l + len, y);
        ctx.moveTo(r, y);
        ctx.lineTo(r - len, y);
      }
      ctx.stroke();

      // tick labels
      ctx.fillStyle = "#000";
      ctx.font = `11px ${SANS}`;
      ctx.textAlign = "center";
      ctx.textBaseline = "middle";
      xTickValues.forEach((v, k) => {
        ctx.fillText(xTickLabels[k], xs.getPixelForValue(v), b + 6.5);
      });
      ctx.textAlign = "right";
      yTickValues.forEach((v, k) => {
        ctx.fillText(yTickLabels[k], l - 6, ys.getPixelForValue(v) + 0.5);
      });

      // axis titles
      ctx.textAlign = "center";
      ctx.fillText(xTitle, (l + r) / 2, b + 20);
      ctx.save();
      ctx.translate(16, (t + b) / 2);
      ctx.rotate(-Math.PI / 2);
      ctx.fillText(yTitle, 0, 0);
      ctx.restore();

      // panel title, tag, coordinates
      ctx.font = `14.5px ${SANS}`;
      ctx.textAlign = "center";
      ctx.fillText(stationNames[idx], 248, t - 11);
      ctx.font = `12px ${SANS}`;
      ctx.textAlign = "left";
      ctx.fillText(panelTags[idx], 55, t - 9.5);
      ctx.font = `8.4px ${MONO}`;
      ctx.fillStyle = "#222";
      ctx.fillText(stationCoords[idx], 374.3, t - 8);

      // legend border and entries
      ctx.strokeStyle = "#333";
      ctx.lineWidth = 1;
      ctx.strokeRect(bx, by, bw, bh);
      const rows = [by + 6.5, by + 18, by + 29];
      const x0 = 377.5, x1 = 395;
      ctx.font = `9px ${SANS}`;
      ctx.fillStyle = "#000";
      ctx.textBaseline = "middle";
      // Aeronet
      ctx.strokeStyle = RED;
      ctx.beginPath();
      ctx.moveTo(x0, rows[0]);
      ctx.lineTo(x1, rows[0]);
      ctx.stroke();
      [379.5, 386, 392.5].forEach((px) => drawCross(ctx, px, rows[0], 2.2));
      // SIM2
      ctx.strokeStyle = BLACK;
      ctx.lineWidth = 1.3;
      ctx.beginPath();
      ctx.moveTo(x0, rows[1]);
      ctx.lineTo(x1, rows[1]);
      ctx.stroke();
      // SIM1
      ctx.strokeStyle = BLUE;
      ctx.lineWidth = 1.6;
      ctx.setLineDash([4, 3]);
      ctx.beginPath();
      ctx.moveTo(x0, rows[2]);
      ctx.lineTo(x1, rows[2]);
      ctx.stroke();
      ctx.setLineDash([]);
      seriesNames.forEach((name, k) => {
        ctx.fillText(name, 396, rows[k] + 0.5);
      });
      ctx.restore();
    },
  };
}

function Panel({ idx }: { idx: number }) {
  const ref = useRef<HTMLCanvasElement>(null);
  useEffect(() => {
    const canvas = ref.current;
    if (!canvas) return;
    const chart = new Chart(canvas, {
      type: "line",
      data: {
        datasets: [
          {
            label: seriesNames[0],
            data: toXY(panelAeronet[idx]),
            borderColor: RED,
            backgroundColor: RED,
            borderWidth: 1,
            pointStyle: "crossRot",
            pointRadius: 2.6,
            pointBorderColor: RED,
            pointBorderWidth: 1,
            spanGaps: 2.5,
            tension: 0,
          },
          {
            label: seriesNames[1],
            data: toXY(panelSim2[idx]),
            borderColor: BLACK,
            borderWidth: 1.3,
            pointRadius: 0,
            tension: 0,
          },
          {
            label: seriesNames[2],
            data: toXY(panelSim1[idx]),
            borderColor: BLUE,
            borderWidth: 1.6,
            borderDash: [4, 3],
            pointRadius: 0,
            tension: 0,
          },
        ],
      } as any,
      options: {
        animation: false,
        responsive: false,
        devicePixelRatio: 1,
        events: [],
        layout: { padding: { top: PLOT_TOP, right: CANVAS_W - PLOT_RIGHT, left: 0, bottom: 0 } },
        plugins: { legend: { display: false }, tooltip: { enabled: false }, title: { display: false } },
        scales: {
          x: {
            type: "linear",
            min: DAY_MIN,
            max: DAY_MAX,
            ticks: { display: false },
            grid: { display: false },
            border: { display: false },
            afterFit: (s: any) => {
              s.height = CANVAS_H - PLOT_BOTTOM;
            },
          },
          y: {
            type: "linear",
            min: AOD_MIN,
            max: AOD_MAX,
            ticks: { display: false },
            grid: { display: false },
            border: { display: false },
            afterFit: (s: any) => {
              s.width = PLOT_LEFT;
            },
          },
        },
      } as any,
      plugins: [makeDecor(idx)],
    });
    return () => chart.destroy();
  }, [idx]);
  return <canvas ref={ref} width={CANVAS_W} height={CANVAS_H} style={{ display: "block", width: CANVAS_W, height: CANVAS_H }} />;
}

export default function App() {
  return (
    <div style={{ position: "absolute", left: 0, top: 0, width: CANVAS_W, background: "#fff" }}>
      {[0, 1, 2, 3, 4, 5].map((i) => (
        <Panel key={i} idx={i} />
      ))}
    </div>
  );
}
